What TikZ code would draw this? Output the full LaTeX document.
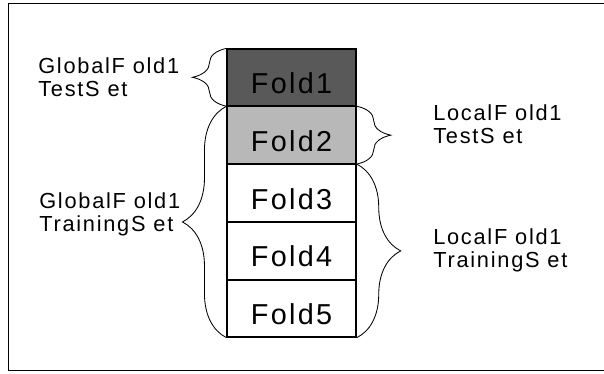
\documentclass[tikz,border=0pt]{standalone}
\usepackage{fontspec}
\setmainfont{Liberation Sans}
\newfontfamily\widesans[LetterSpace=8]{Liberation Sans}
\usetikzlibrary{positioning,decorations.pathreplacing}

\begin{document}
\begin{tikzpicture}[
  fold/.style={draw,line width=0.9pt,minimum width=3.225cm,minimum height=1.415cm,
               inner sep=0pt,text height=0.8cm,text depth=0pt,
               font=\widesans\fontsize{20.5}{24}\selectfont},
  lbl/.style={anchor=base west,align=left,inner sep=0pt,
              font=\widesans\fontsize{15.5}{16.4}\selectfont},
  brc/.style={decorate,semithick,line cap=round,decoration={brace,amplitude=#1}}
]
  \useasboundingbox (0,0) rectangle (15.1,9.325);
  % frame (right side is cut off)
  \draw[semithick] (15.1,9.25) -- (0.21,9.25) -- (0.21,0.075) -- (15.1,0.075);

  \node[fold,fill=black!65] (f1) at (7.29,7.3925) {Fold1};
  \node[fold,fill=black!28] (f2) [below=0pt of f1] {Fold2};
  \node[fold] (f3) [below=0pt of f2] {Fold3};
  \node[fold] (f4) [below=0pt of f3] {Fold4};
  \node[fold] (f5) [below=0pt of f4] {Fold5};

  \draw[brc=0.85cm] (f1.south west) -- (f1.north west);
  \draw[brc=1.1cm]  (f5.south west) -- (f2.north west);
  \draw[brc=0.85cm] (f2.north east) -- (f2.south east);
  \draw[brc=1.1cm]  (f3.north east) -- (f5.south east);

  % anchor is the baseline of the second line
  \node[lbl] (gtest)  at (0.95,6.9)    {GlobalF old1\\TestS et};
  \node[lbl] (gtrain) at (0.975,3.525) {GlobalF old1\\TrainingS et};
  \node[lbl] (ltest)  at (10.825,5.725) {LocalF old1\\TestS et};
  \node[lbl] (ltrain) at (10.825,2.625) {LocalF old1\\TrainingS et};
\end{tikzpicture}
\end{document}
